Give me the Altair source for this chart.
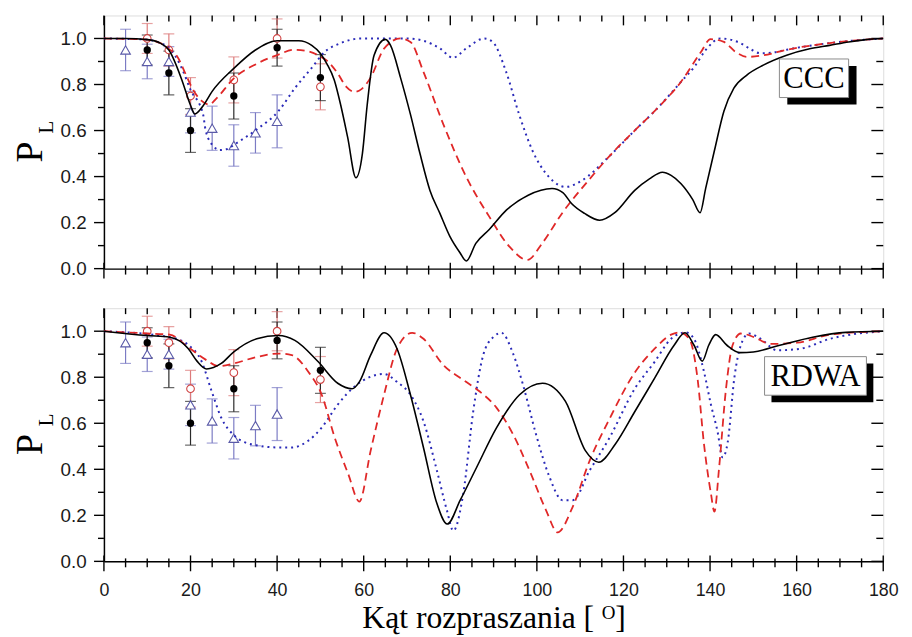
import altair as alt
import pandas as pd

# ---------------- data ----------------
# CCC panel (top)
ccc_solid_x = [0, 5, 10, 13, 15, 18, 20, 21, 23, 25, 30, 35, 40, 45, 48, 50, 51.5, 53.2, 54.7, 56.3, 58.2,
               59.7, 60.8, 62.4, 65, 66.2, 68.5, 70.8, 73, 75.3, 77.6, 79.9, 82.2, 83.7, 85.9, 89, 93, 98,
               103.5, 106, 108, 111, 114.5, 118, 122.6, 126, 129, 131, 133.3, 136, 137.7, 139, 141, 143.2,
               145.5, 148.5, 152.3, 157.7, 163, 167.6, 172, 176, 180]
ccc_solid_y = [1.0, 1.0, 0.995, 0.98, 0.95, 0.82, 0.71, 0.672, 0.71, 0.77, 0.87, 0.95, 0.99, 0.99, 0.97, 0.935,
               0.89, 0.82, 0.71, 0.57, 0.395, 0.5, 0.71, 0.927, 0.996, 0.97, 0.83, 0.67, 0.5, 0.34, 0.24, 0.14,
               0.07, 0.033, 0.11, 0.17, 0.255, 0.319, 0.348, 0.33, 0.283, 0.24, 0.21, 0.243, 0.34, 0.39, 0.419,
               0.405, 0.369, 0.3, 0.243, 0.35, 0.512, 0.684, 0.784, 0.841, 0.884, 0.927, 0.955, 0.97, 0.985,
               0.995, 1.0]
ccc_dash_x = [0, 10, 13, 15, 17, 19, 20.5, 22.5, 24.3, 26, 30, 35.3, 40.3, 44, 47, 49.5, 52, 54, 56, 57.8,
              59.5, 61.6, 64.7, 68.5, 70.8, 73.8, 78.4, 83.7, 89, 93.6, 97.8, 101.3, 105.8, 111.9, 117.3,
              122.6, 127.9, 133.3, 137.9, 140.1, 143.2, 146, 148.5, 152.3, 157.7, 167.6, 180]
ccc_dash_y = [1.0, 0.995, 0.98, 0.955, 0.92, 0.84, 0.78, 0.73, 0.713, 0.74, 0.827, 0.89, 0.93, 0.951, 0.945,
              0.927, 0.895, 0.848, 0.79, 0.768, 0.78, 0.83, 0.956, 1.0, 0.985, 0.855, 0.627, 0.398, 0.226,
              0.097, 0.038, 0.112, 0.24, 0.383, 0.5, 0.6, 0.698, 0.812, 0.941, 0.997, 0.985, 0.94, 0.92,
              0.927, 0.951, 0.98, 1.0]
ccc_dot_x = [0, 10, 13, 15, 18, 20, 22.9, 23.5, 25.4, 26.8, 28.5, 30.2, 35.3, 40.3, 44.1, 47.9, 50.9, 54.7,
             59.3, 70, 73.8, 77.6, 80.6, 83.7, 87.9, 89.8, 92.9, 95.9, 99, 102.8, 106.6, 110.4, 116.5, 122.6,
             127.9, 133.3, 136.5, 139, 142.4, 147, 149.5, 151.6, 155, 157.7, 167.6, 180]
ccc_dot_y = [1.0, 0.995, 0.98, 0.96, 0.87, 0.777, 0.67, 0.6, 0.53, 0.515, 0.52, 0.54, 0.605, 0.684, 0.784,
             0.87, 0.94, 0.98, 1.0, 1.0, 0.99, 0.957, 0.916, 0.957, 1.0, 0.985, 0.855, 0.67, 0.512, 0.398,
             0.355, 0.383, 0.484, 0.6, 0.698, 0.812, 0.88, 0.95, 1.0, 0.98, 0.952, 0.936, 0.94, 0.951, 0.98,
             1.0]

# RDWA panel (bottom)
rdwa_solid_x = [0, 10.1, 15.2, 19.5, 21.5, 23.7, 27.1, 30, 35.3, 40.3, 44.1, 49.5, 54, 57.3, 59, 61.6, 64.7,
                67.7, 70.8, 73.8, 76.9, 79.3, 82.3, 86.1, 90.7, 96, 101.3, 106.6, 111.2, 114.3, 118.1, 122.6,
                127.2, 131.7, 134.2, 136.3, 138.2, 139.7, 141.3, 143.9, 146.9, 150, 156.1, 163.7, 171.4, 180]
rdwa_solid_y = [1.0, 0.981, 0.974, 0.924, 0.87, 0.836, 0.86, 0.91, 0.967, 0.981, 0.96, 0.867, 0.774, 0.75,
                0.78, 0.896, 0.993, 0.924, 0.724, 0.495, 0.252, 0.162, 0.266, 0.409, 0.581, 0.724, 0.774,
                0.695, 0.481, 0.431, 0.509, 0.65, 0.796, 0.939, 0.993, 0.939, 0.87, 0.939, 0.985, 0.939,
                0.907, 0.91, 0.939, 0.974, 0.995, 1.0]
rdwa_dash_x = [0, 10.1, 15.2, 19.5, 23.7, 26.4, 30, 35.3, 40.3, 43.4, 47.2, 50.3, 53.3, 56.4, 59, 61.6, 64.7,
               67.7, 71.2, 73.8, 78.4, 83, 86.8, 90.7, 94.5, 98.3, 102.1, 104.8, 108.3, 112.2, 116.8, 122.6,
               127.2, 131, 132.9, 135.2, 137.1, 138.6, 140.2, 141, 142.1, 143.7, 145.2, 147.1, 150.2, 154,
               160.1, 167.7, 180]
rdwa_dash_y = [1.0, 0.99, 0.985, 0.93, 0.874, 0.848, 0.86, 0.888, 0.903, 0.896, 0.824, 0.724, 0.538, 0.381,
               0.26, 0.48, 0.724, 0.924, 0.993, 0.967, 0.853, 0.788, 0.738, 0.667, 0.552, 0.395, 0.223,
               0.126, 0.238, 0.438, 0.62, 0.82, 0.924, 0.985, 0.995, 0.967, 0.796, 0.509, 0.295, 0.216,
               0.409, 0.753, 0.939, 0.99, 0.974, 0.945, 0.95, 0.985, 1.0]
rdwa_dot_x = [0, 15.2, 19.5, 22.6, 24.9, 27.1, 30.2, 34, 40.3, 43.4, 47.2, 50.3, 54, 57.9, 61.7, 64.7, 67.7,
              70.8, 73.8, 76.9, 79.2, 80.7, 83, 85.3, 87.6, 89.9, 91.8, 94.5, 96.8, 99.8, 102.9, 105.9,
              108.3, 112.2, 116.8, 122.6, 127.2, 131, 134.4, 136.3, 138.6, 140.2, 141.7, 142.9, 144.1,
              145.6, 147.1, 149, 151.7, 155.5, 160.9, 167.7, 180]
rdwa_dot_y = [1.0, 0.974, 0.94, 0.867, 0.738, 0.624, 0.545, 0.509, 0.495, 0.495, 0.524, 0.581, 0.681, 0.76,
              0.803, 0.814, 0.78, 0.724, 0.609, 0.395, 0.223, 0.133, 0.295, 0.652, 0.896, 0.974, 0.993,
              0.903, 0.767, 0.552, 0.367, 0.266, 0.266, 0.395, 0.538, 0.75, 0.867, 0.967, 0.995, 0.967,
              0.824, 0.681, 0.567, 0.452, 0.52, 0.796, 0.939, 0.99, 0.967, 0.917, 0.924, 0.967, 1.0]

# experimental points (same in both panels)
exp_black_x = [10, 15, 20, 30, 40, 50]
exp_black_y = [0.95, 0.85, 0.60, 0.75, 0.96, 0.83]
exp_black_err = [0.065, 0.095, 0.095, 0.10, 0.08, 0.10]
exp_red_x = [10, 15, 20, 30, 40, 50]
exp_red_y = [1.0, 0.95, 0.75, 0.82, 1.0, 0.79]
exp_red_err = [0.065, 0.07, 0.08, 0.10, 0.085, 0.10]
exp_blue_x = [5, 10, 15, 20, 25, 30, 35, 40]
exp_blue_y = [0.95, 0.90, 0.90, 0.68, 0.61, 0.535, 0.59, 0.64]
exp_blue_err = [0.09, 0.075, 0.065, 0.09, 0.096, 0.09, 0.088, 0.115]

panel_labels = ["CCC", "RDWA"]
y_title = ["P", "L"]
x_title = "Kąt rozpraszania [ ᴼ]"
x_major = list(range(0, 181, 20))
x_minor = [v for v in range(0, 181, 5) if v % 20 != 0]
y_major = [round(i * 0.2, 1) for i in range(6)]
y_minor = [round(i * 0.2 + 0.1, 1) for i in range(5)]

# ---------------- chart ----------------
W, H = 788, 256
XS = alt.Scale(domain=[0, 180], nice=False, zero=False)
YS = alt.Scale(domain=[0, 1.1], nice=False, zero=False)
SANS = "Liberation Sans"
SERIF = "Liberation Serif"
TW = 1.4


def axis_bottom(show):
    kw = dict(orient="bottom", values=x_major, grid=False, ticks=False, tickSize=0, domain=True,
              domainColor="black", domainWidth=1.5, title=None, labels=False)
    if show:
        kw.update(labels=True, labelFont=SANS, labelFontSize=18, labelColor="#1a1a1a",
                  labelPadding=21, labelOverlap=False, labelFlush=False, title=x_title,
                  titleFont=SERIF, titleFontSize=32, titleFontWeight="normal", titleColor="black",
                  titlePadding=3)
    return alt.Axis(**kw)


def axis_left():
    return alt.Axis(orient="left", values=y_major, grid=False, ticks=False, tickSize=0, domain=True,
                    domainColor="black", domainWidth=1.5, title=None, labels=True, format=".1f",
                    labelFont=SANS, labelFontSize=19, labelColor="#1a1a1a", labelPadding=18,
                    labelOverlap=False, labelFlush=False)


def xticks(values, y0, y1):
    df = pd.DataFrame({"v": values})
    return alt.Chart(df).mark_rule(color="black", strokeWidth=TW).encode(
        x=alt.X("v:Q", scale=XS, axis=None), y=alt.value(y0), y2=alt.value(y1))


def yticks(values, x0, x1):
    df = pd.DataFrame({"v": values})
    return alt.Chart(df).mark_rule(color="black", strokeWidth=TW).encode(
        y=alt.Y("v:Q", scale=YS, axis=None), x=alt.value(x0), x2=alt.value(x1))


def curve(xv, yv, xa=None, ya=None, **mk):
    df = pd.DataFrame({"a": xv, "p": yv})
    return alt.Chart(df).mark_line(interpolate="monotone", clip=True, **mk).encode(
        x=alt.X("a:Q", scale=XS, axis=xa),
        y=alt.Y("p:Q", scale=YS, axis=ya),
    )


def errbars(xv, yv, ev, color, width):
    df = pd.DataFrame({"a": xv, "p": yv, "e": ev})
    df["lo"] = df["p"] - df["e"]
    df["hi"] = df["p"] + df["e"]
    rule = alt.Chart(df).mark_rule(color=color, strokeWidth=width).encode(
        x=alt.X("a:Q", scale=XS, axis=None),
        y=alt.Y("lo:Q", scale=YS, axis=None),
        y2="hi:Q",
    )
    caps = alt.Chart(df).transform_fold(["lo", "hi"], as_=["k", "v"]).mark_tick(
        orient="horizontal", color=color, size=11, thickness=width).encode(
        x=alt.X("a:Q", scale=XS, axis=None),
        y=alt.Y("v:Q", scale=YS, axis=None),
    )
    return rule + caps


def points(xv, yv, **mk):
    df = pd.DataFrame({"a": xv, "p": yv})
    return alt.Chart(df).mark_point(**mk).encode(
        x=alt.X("a:Q", scale=XS, axis=None),
        y=alt.Y("p:Q", scale=YS, axis=None),
    )


def text_px(txt, x, y, **mk):
    return alt.Chart(pd.DataFrame({"t": [txt]})).mark_text(**mk).encode(
        text="t:N", x=alt.value(x), y=alt.value(y))


def rect_px(x, x2, y, y2, **mk):
    return alt.Chart(pd.DataFrame({"t": [0]})).mark_rect(**mk).encode(
        x=alt.value(x), x2=alt.value(x2), y=alt.value(y), y2=alt.value(y2))


def panel(solid, dash, dot, label, box, show_x):
    bx0, bx1, by0, by1, sh = box
    layers = [
        # frame ticks
        xticks(x_major, H - 6, H + 10),
        xticks(x_minor, H - 3, H + 6),
        xticks(x_major, 0, 10),
        xticks(x_minor, 0, 6),
        yticks(y_major, -10, 0),
        yticks(y_minor, -6, 0),
        yticks(y_major, W - 12, W),
        yticks(y_minor, W - 7, W),
        # experimental data
        errbars(exp_blue_x, exp_blue_y, exp_blue_err, "#7b7bc4", 1.2),
        errbars(exp_red_x, exp_red_y, exp_red_err, "#dd7b7b", 1.2),
        errbars(exp_black_x, exp_black_y, exp_black_err, "#2a2a2a", 1.2),
        points(exp_blue_x, exp_blue_y, shape="triangle-up", size=95, filled=True, fill="white",
               stroke="#5a5aa8", strokeWidth=1.1, opacity=1),
        points(exp_red_x, exp_red_y, shape="circle", size=60, filled=True, fill="white",
               stroke="#d04545", strokeWidth=1.1, opacity=1),
        points(exp_black_x, exp_black_y, shape="circle", size=55, filled=True, color="black",
               opacity=1),
        # theory curves
        curve(dot[0], dot[1], color="#2a2ab8", strokeWidth=2, strokeDash=[2, 4]),
        curve(dash[0], dash[1], color="#e02828", strokeWidth=1.8, strokeDash=[8, 5]),
        curve(solid[0], solid[1], xa=axis_bottom(show_x), ya=axis_left(), color="black",
              strokeWidth=1.6),
        # label box
        rect_px(bx0 + sh[0], bx1 + sh[0], by0 + sh[1], by1 + sh[1], color="black"),
        rect_px(bx0, bx1, by0, by1, fill="white", stroke="#8a8a8a", strokeWidth=1),
        text_px(label, (bx0 + bx1) / 2, (by0 + by1) / 2 + 1, font=SERIF, fontSize=31,
                color="black", align="center", baseline="middle"),
        text_px(y_title[0], -74, 138, font=SERIF, fontSize=38, color="black", angle=270,
                align="center", baseline="middle"),
        text_px(y_title[1], -57, 113, font=SERIF, fontSize=21, color="black", angle=270,
                align="center", baseline="middle"),
    ]
    return alt.layer(*layers).resolve_axis(x="independent", y="independent").properties(
        width=W, height=H)


top = panel((ccc_solid_x, ccc_solid_y), (ccc_dash_x, ccc_dash_y), (ccc_dot_x, ccc_dot_y),
            panel_labels[0], (683, 753, 44, 83, (8, 7)), False)
bottom = panel((rdwa_solid_x, rdwa_solid_y), (rdwa_dash_x, rdwa_dash_y), (rdwa_dot_x, rdwa_dot_y),
               panel_labels[1], (668, 771, 49, 88, (7, 7)), True)

chart = alt.vconcat(top, bottom, spacing=26).properties(
    padding={"left": 3, "top": 2, "right": 5, "bottom": 5}
).configure_view(stroke="black", strokeWidth=1.5).configure(background="white")

chart.save("out.html", embed_options={"renderer": "svg", "actions": False})
